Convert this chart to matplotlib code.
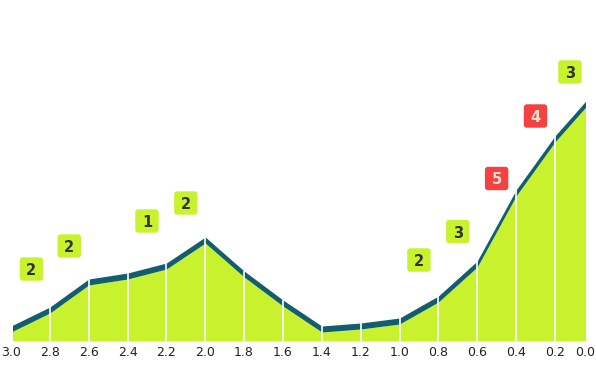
import numpy as np
import matplotlib
matplotlib.use("Agg")
import matplotlib.pyplot as plt
from matplotlib.patches import FancyBboxPatch
from matplotlib import transforms

# x positions (axis runs 3.0 -> 0.0)
x_vals = [3.0, 2.8, 2.6, 2.4, 2.2, 2.0, 1.8, 1.6, 1.4, 1.2, 1.0, 0.8, 0.6, 0.4, 0.2, 0.0]
# height of the filled area at each x
area_vals = [9, 28, 56, 62, 72, 98, 64, 35, 9, 12, 17, 39, 74, 145, 199, 243]
# thickness of the dark band on top
band_height = 6

# badges sit over the middle of a segment (segment start index)
badge_segments = [0, 1, 3, 4, 10, 11, 12, 13, 14]
badge_texts = ["2", "2", "1", "2", "2", "3", "5", "4", "3"]
badge_kinds = ["ok", "ok", "ok", "ok", "ok", "ok", "bad", "bad", "ok"]

LIME = "#c9f22e"
TEAL = "#125e6e"
RED = "#f44141"

x = np.array(x_vals)
y = np.array(area_vals, dtype=float)

fig = plt.figure(figsize=(5.96, 3.71), dpi=100)
# plot area is a bit narrower than the data range, so both ends get clipped
ax = fig.add_axes([13 / 596, 30 / 371, 572 / 596, 341 / 371])
step_px = 38.85
ax.set_xlim(3.0 - 0.2 * 2 / step_px, 0.2 - 0.2 * 30.1 / step_px)
ax.set_ylim(0, 341)

ax.fill_between(x, 0, y, color=LIME, lw=0)
ax.fill_between(x, y, y + band_height, color=TEAL, lw=0)
ax.vlines(x[1:-1], 0, y[1:-1] + band_height, color="white", lw=1.2)

ax.set_xticks([])
ax.set_yticks([])
for s in ax.spines.values():
    s.set_visible(False)

x_lo, x_hi = ax.get_xlim()

# tick labels drawn by hand so the end ones still show
label_trans = transforms.blended_transform_factory(ax.transData, ax.transAxes)
for v in x_vals:
    pos = min(max(v, x_hi), x_lo + 1)
    ax.text(pos, -0.035, f"{v:.1f}", transform=label_trans, ha="center",
            va="center", fontsize=9, color="#222222", clip_on=False)


def visible(i):
    # value of segment i's ends, cut to the plot area
    xa, xb = x[i], x[i + 1]
    ya, yb = y[i], y[i + 1]
    ca = min(max(xa, x_hi), x_lo)
    cb = min(max(xb, x_hi), x_lo)
    fa = np.interp(ca, [xb, xa], [yb, ya])
    fb = np.interp(cb, [xb, xa], [yb, ya])
    return (ca + cb) / 2, (fa + fb) / 2


# badges
for seg, txt, kind in zip(badge_segments, badge_texts, badge_kinds):
    bx, mid = visible(seg)
    by = mid + band_height + 47
    trans = fig.dpi_scale_trans + transforms.ScaledTranslation(bx, by, ax.transData)
    face = RED if kind == "bad" else LIME
    tcol = "#ffe0d0" if kind == "bad" else "#333333"
    box = FancyBboxPatch((-0.117, -0.117), 0.234, 0.234,
                         boxstyle="round,pad=0,rounding_size=0.03",
                         transform=trans, facecolor=face, edgecolor="none",
                         clip_on=False)
    ax.add_patch(box)
    ax.text(bx, by, txt, ha="center", va="center_baseline", fontsize=10.5,
            fontweight="bold", color=tcol, clip_on=False)

fig.savefig("out.png", dpi=100)
